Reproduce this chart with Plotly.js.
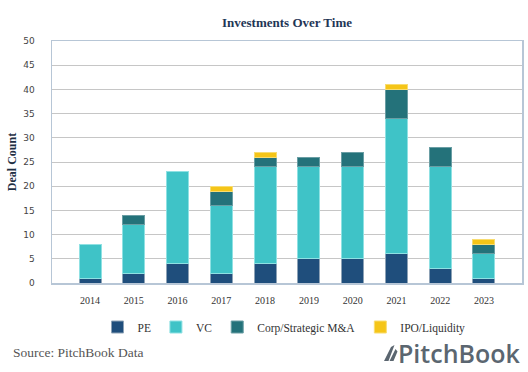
<!DOCTYPE html>
<html>
<head>
<meta charset="utf-8">
<script src="https://cdn.plot.ly/plotly-3.0.1.min.js"></script>
<style>html,body{margin:0;padding:0;background:#fff;}#chart{width:528px;height:372px;}</style>
</head>
<body>
<div id="chart"></div>
<script>
const years = ['2014','2015','2016','2017','2018','2019','2020','2021','2022','2023'];
const pe   = [1, 2, 4, 2, 4, 5, 5, 6, 3, 1];
const vc   = [7, 10, 19, 14, 20, 19, 19, 28, 21, 5];
const corp = [0, 2, 0, 3, 2, 2, 3, 6, 4, 2];
const ipo  = [0, 0, 0, 1, 1, 0, 0, 1, 0, 1];
const yTicks = [0,5,10,15,20,25,30,35,40,45,50];

const W = 528, H = 372, L = 52, R = 6, T = 41, B = 89;
const pw = W - L - R, ph = H - T - B;
const px = x => (x - L) / pw;
const py = y => (H - B - y) / ph;

function bar(name, vals, color, line) {
  return {
    type: 'bar', name: name, x: years, y: vals.map(v => v || null),
    marker: {color: color, line: {color: line, width: 1}},
    hoverinfo: 'x+y+name'
  };
}
const data = [
  bar('PE', pe, '#1f4e7c', '#8da2b6'),
  bar('VC', vc, '#3fc3c7', '#8fe1e3'),
  bar('Corp/Strategic M&A', corp, '#24727a', '#6a9ea4'),
  bar('IPO/Liquidity', ipo, '#f5c518', '#f8dc70')
];

const sail = 'M' + px(384) + ',' + py(361) + ' L' + px(391) + ',' + py(347) + ' L' + px(394.5) + ',' + py(345) +
  ' L' + px(388.5) + ',' + py(361) + ' Z M' + px(389.5) + ',' + py(361) + ' L' + px(395.5) + ',' + py(349) +
  ' L' + px(397.5) + ',' + py(351.5) + ' L' + px(393.5) + ',' + py(361) + ' Z';

const layout = {
  width: W, height: H,
  margin: {l: L, r: R, t: T, b: B, pad: 0},
  paper_bgcolor: '#ffffff', plot_bgcolor: '#ffffff',
  barmode: 'stack', bargap: 0.5,
  showlegend: true,
  title: {text: '<b>Investments Over Time</b>', xref: 'container', x: 287 / W, xanchor: 'center',
          yref: 'container', y: 1 - 22 / H, yanchor: 'middle',
          font: {family: 'Liberation Serif, serif', size: 13, color: '#1f3656'}},
  xaxis: {type: 'category', range: [-0.87, 9.87], showgrid: false, zeroline: false,
          showline: true, mirror: true, linecolor: '#b7c6d6', linewidth: 1.5,
          ticks: '', ticklabelstandoff: 7,
          tickfont: {family: 'Liberation Serif, serif', size: 10, color: '#333'}},
  yaxis: {range: [0, 50], tickvals: yTicks, ticktext: yTicks.map(String),
          showgrid: true, gridcolor: '#c6c6c6', gridwidth: 1, zeroline: false,
          showline: true, mirror: true, linecolor: '#b7c6d6', linewidth: 1.5,
          ticks: '', ticklabelstandoff: 14,
          tickfont: {family: 'DejaVu Sans, sans-serif', size: 9, color: '#444'},
          title: {text: '<b>Deal Count</b>', standoff: 4,
                  font: {family: 'Liberation Serif, serif', size: 12, color: '#1f2f44'}}},
  legend: {orientation: 'h', x: px(284), xanchor: 'center', y: py(327), yanchor: 'middle',
           bgcolor: 'rgba(0,0,0,0)', traceorder: 'normal', itemwidth: 30,
           font: {family: 'Liberation Serif, serif', size: 11.5, color: '#333'}},
  annotations: [
    {text: 'Source: PitchBook Data', xref: 'paper', yref: 'paper', x: px(11), y: py(352),
     xanchor: 'left', yanchor: 'middle', showarrow: false,
     font: {family: 'Liberation Serif, serif', size: 13.5, color: '#555'}},
    {text: 'PitchBook', xref: 'paper', yref: 'paper', x: px(523), y: py(353),
     xanchor: 'right', yanchor: 'middle', showarrow: false,
     font: {family: 'Open Sans, sans-serif', size: 25, weight: 600, color: '#5b6670'}}
  ],
  shapes: [
    {type: 'path', xref: 'paper', yref: 'paper', path: sail, fillcolor: '#5b6670', line: {width: 0}}
  ]
};

Plotly.newPlot('chart', data, layout, {displayModeBar: false, staticPlot: true});
</script>
</body>
</html>
